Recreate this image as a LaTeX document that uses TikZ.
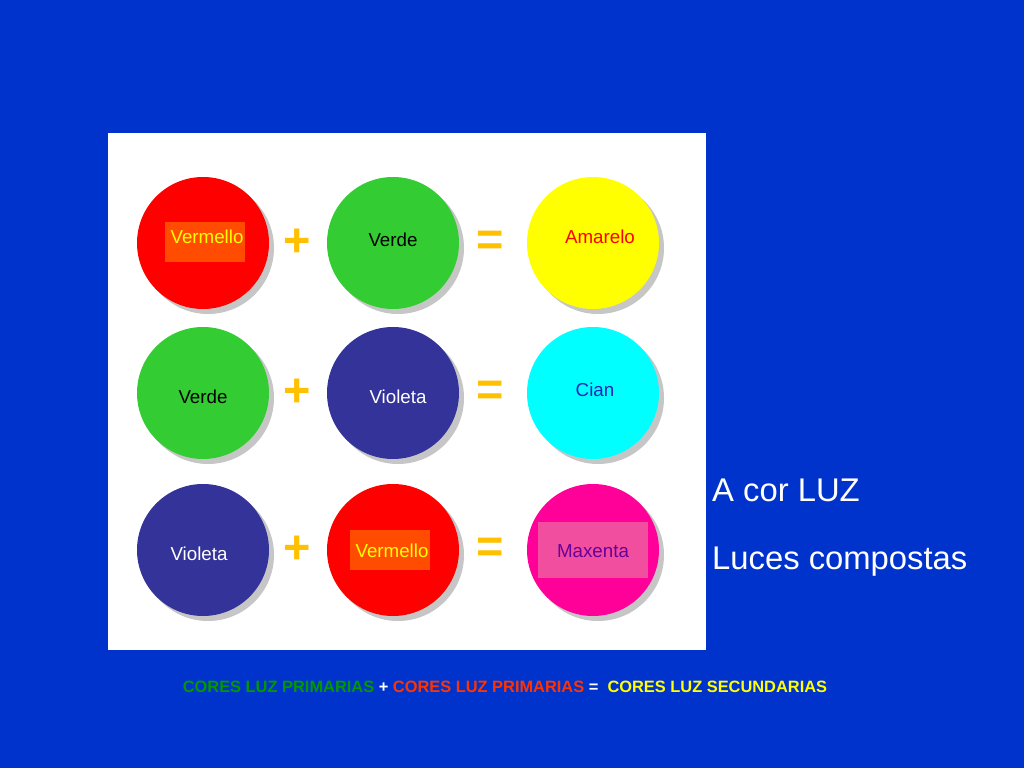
\documentclass[tikz,border=0pt]{standalone}
\usepackage{fontspec}
\setmainfont{Liberation Sans}
\definecolor{bgblue}{HTML}{0033CC}
\definecolor{signyel}{HTML}{FFC000}
\definecolor{lred}{HTML}{FF0000}
\definecolor{lgreen}{HTML}{33CC33}
\definecolor{lviolet}{HTML}{333399}
\definecolor{lyellow}{HTML}{FFFF00}
\definecolor{lcyan}{HTML}{00FFFF}
\definecolor{lmagenta}{HTML}{FF0099}
\tikzset{
  disc/.style={circle, minimum size=133\pgfmathresult, inner sep=0pt},
  sign/.style={text=signyel, font=\fontsize{40}{40}\selectfont\bfseries},
  lbl/.style={font=\fontsize{16}{16}\selectfont},
}
\begin{document}
\begin{tikzpicture}[x=0.03cm, y=-0.03cm]
  % Background and panel
  \fill[bgblue] (0,0) rectangle (1024,768);
  \fill[white] (108,133) rectangle (706,650);

  % Discs: centre x, centre y, colour, name
  \foreach \cx/\cy/\col/\nm in {203/243/lred/r1, 393/243/lgreen/g1, 593/243/lyellow/y1,
                                 203/393/lgreen/g2, 393/393/lviolet/v2, 593/393/lcyan/c2,
                                 203/550/lviolet/v3, 393/550/lred/r3, 593/550/lmagenta/m3}{
    \fill[gray!45] (\cx+5,\cy+5) circle (66);
    \fill[\col] (\cx,\cy) circle (66);
    \coordinate (\nm) at (\cx,\cy);
  }

  % Labels
  \fill[orange!60!red] (165,222) rectangle (245,262);
  \node[lbl, text=lyellow] at (207,237) {Vermello};
  \node[lbl, text=black] at (393,240) {Verde};
  \node[lbl, text=red] at (600,237) {Amarelo};
  \node[lbl, text=black] at (203,397) {Verde};
  \node[lbl, text=white] at (398,397) {Violeta};
  \node[lbl, text=lviolet!70!blue] at (595,390) {Cian};
  \node[lbl, text=white] at (199,554) {Violeta};
  \fill[orange!60!red] (350,530) rectangle (430,570);
  \node[lbl, text=lyellow] at (392,551) {Vermello};
  \fill[magenta!60!pink] (538,522) rectangle (648,578);
  \node[lbl, text=violet!80!blue] at (593,551) {Maxenta};

  % Signs
  \foreach \sy in {243,393,550}{
    \node[sign] (p\sy) at (297,\sy) {+};
    \node[sign] (e\sy) at (490,\sy) {=};
  }

  % Titles
  \node[anchor=west, text=white, font=\fontsize{28}{28}\selectfont] (t1) at (708,490) {A cor LUZ};
  \node[anchor=west, text=white, font=\fontsize{28}{28}\selectfont] (t2) at (708,562) {Luces compostas};

  % Bottom line
  \node[font=\fontsize{14}{14}\selectfont\bfseries] (leg) at (505,687)
    {\textcolor{green!60!black}{CORES LUZ PRIMARIAS} \textcolor{white}{+} \textcolor{orange!40!red}{CORES LUZ PRIMARIAS} \textcolor{white}{=}\ \ \textcolor{lyellow}{CORES LUZ SECUNDARIAS}};
\end{tikzpicture}
\end{document}
